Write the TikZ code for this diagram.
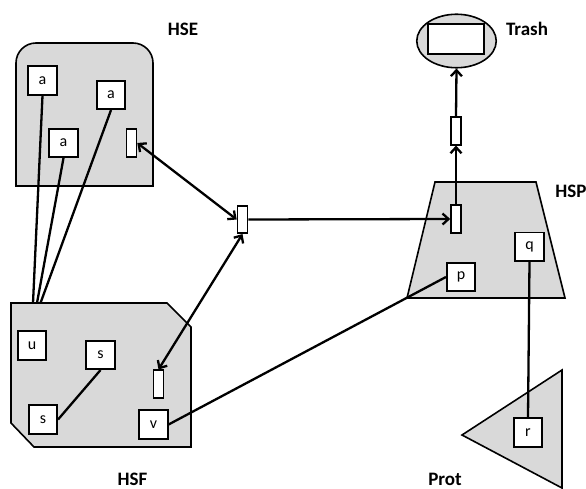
\documentclass[tikz,border=0pt]{standalone}
\usepackage{fontspec}
\setmainfont{Carlito}
\usetikzlibrary{arrows.meta,shapes.geometric}
\definecolor{regionGrey}{RGB}{217,217,217}

\begin{document}
\begin{tikzpicture}
[x=1pt,y=-1pt,>={Straight Barb[length=6pt,width=11pt]},
  regionDecorate/.style={draw,line width=1.6pt,fill=regionGrey},
  boxDecorate/.style={shape=rectangle,draw,line width=1.6pt,fill=white,
    minimum size=28.5pt,inner sep=0pt,font=\fontsize{16}{16}\selectfont},
  slotDecorate/.style={shape=rectangle,draw,line width=1.6pt,fill=white,
    minimum width=10pt,minimum height=27.5pt,inner sep=0pt},
  labelDecorate/.style={inner sep=0pt,font=\fontsize{19}{19}\selectfont\bfseries},
  lineDecorate/.style={draw,line width=2.3pt},
  arrowDecorate/.style={draw,line width=2.3pt}]
\useasboundingbox (0,0) rectangle (586,489);
%% regions
\draw[regionDecorate] (16,186) -- (16,63) arc[start angle=180,end angle=270,radius=20]
  -- (133,43) arc[start angle=270,end angle=360,radius=20] -- (153,186) -- cycle;
\draw[regionDecorate] (11,303) -- (167,303) -- (191,327) -- (191,447) -- (34,447)
  -- (11,423) -- cycle;
\draw[regionDecorate] (435,182) -- (536,182) -- (565,298) -- (407,298) -- cycle;
\draw[regionDecorate] (462,435) -- (562,370) -- (562,488) -- cycle;
\node (trash) at (456.5,41) [regionDecorate,shape=ellipse,minimum width=79.5pt,
  minimum height=53.5pt,inner sep=0pt] {};
\node (bin) at (456,39) [slotDecorate,minimum width=56.5pt,minimum height=29.5pt] {};
%% nodes or vertices
\foreach \nodename/\x/\y/\letter in {
  a1/42.5/80.5/a, a2/111/95/a, a3/63.5/143/a, u/32/345.5/u, s1/100.5/355/s,
  s2/43/419.5/s, v/153.5/424.5/v, p/461/277/p, q/529.5/246.7/q, r/528/432.5/r}
{
  \node (\nodename) at (\x,\y) [boxDecorate] {\letter};
}
\foreach \nodename/\x/\y in {
  eSlot/131.5/143, mSlot/242.5/219.5, fSlot/158.5/384, pSlot/456/219, tSlot/456/131}
{
  \node (\nodename) at (\x,\y) [slotDecorate] {};
}
\coordinate (hubA) at (33,303);
\coordinate (hubB) at (37,303);
\coordinate (hubC) at (40.5,303);
%% labels
\foreach \nodename/\x/\y/\name in {
  hseLabel/183/29.5/HSE, trashLabel/527/29/Trash, hspLabel/571/191/HSP,
  hsfLabel/132.5/479/HSF, protLabel/445/479.5/Prot}
{
  \node (\nodename) at (\x,\y) [labelDecorate] {\name};
}
%% edges or lines
\foreach \startnode/\endnode in {
  a1.south/hubA, a3.south/hubB, a2.south/hubC, s1.south/s2.east, v.east/p.west,
  q.south/r.north}
{
  \path[lineDecorate] (\startnode) -- (\endnode);
}
\foreach \startnode/\endnode/\tips in {
  eSlot.east/mSlot.west/<->, mSlot.south/fSlot.north/<->, mSlot.east/pSlot.west/->,
  pSlot.north/tSlot.south/->, tSlot.north/trash.south/->}
{
  \path[arrowDecorate,\tips] (\startnode) -- (\endnode);
}
\end{tikzpicture}
\end{document}
